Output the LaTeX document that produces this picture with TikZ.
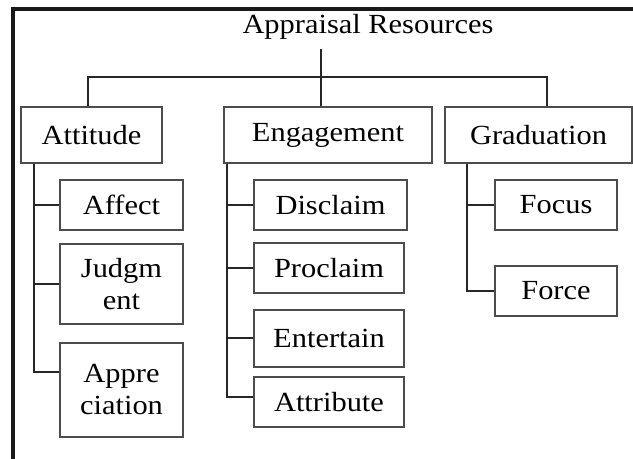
\documentclass[tikz,border=0pt]{standalone}
\usepackage{fontspec}
\setmainfont{Liberation Serif}[FakeStretch=1.1]
\usetikzlibrary{positioning}

\begin{document}
\begin{tikzpicture}[
  x=0.75pt, y=-0.75pt,
  box/.style={draw=black!70, line width=1.2pt, align=center, inner sep=2pt, font=\fontsize{20.75}{24}\selectfont},
  link/.style={draw=black!85, line width=1.5pt}
]
\useasboundingbox (0,0) rectangle (633,459);
\draw[line width=2.4pt, black!90] (13,9) rectangle (660,475);

\node[font=\fontsize{20.75}{24}\selectfont, inner xsep=0pt, inner ysep=7pt, anchor=base] (title) at (368,34) {Appraisal Resources};
\coordinate (hub) at (321,77);

\node[box, minimum width=105.75pt, minimum height=42pt] (att) at (91.5,135) {Attitude};
\node[box, minimum width=156pt, minimum height=42pt] (eng) at (328,135) {Engagement};
\node[box, minimum width=140.25pt, minimum height=42pt] (grad) at (538.5,135) {Graduation};

\node[box, minimum width=92.25pt, minimum height=37.5pt] (aff) at (121.5,205) {Affect};
\node[box, minimum width=92.25pt, minimum height=60pt] (judg) at (121.5,284) {Judgm\\ent};
\node[box, minimum width=92.25pt, minimum height=70.5pt] (appr) at (121.5,390) {Appre\\ciation};

\node[box, minimum width=114.75pt, minimum height=37.5pt] (disc) at (330.5,205) {Disclaim};
\node[box, minimum width=112.5pt, minimum height=37.5pt] (procl) at (329,268) {Proclaim};
\node[box, minimum width=112.5pt, minimum height=42.75pt] (ent) at (329,338.5) {Entertain};
\node[box, minimum width=112.5pt, minimum height=37.5pt] (attr) at (329,402) {Attribute};

\node[box, minimum width=91.5pt, minimum height=37.5pt] (foc) at (556,205) {Focus};
\node[box, minimum width=91.5pt, minimum height=37.5pt] (force) at (556,291) {Force};

% top level
\draw[link] (title.south -| hub) -- (hub |- eng.north);
\draw[link] ([xshift=-2.6pt]att.north) |- (hub) -| ([xshift=6.4pt]grad.north);

% attitude
\coordinate (attspine) at ([xshift=10.5pt]att.south west);
\draw[link] (attspine) |- ([yshift=13.5pt]appr.west);
\draw[link] (attspine |- aff.west) -- (aff.west);
\draw[link] (attspine |- judg.west) -- (judg.west);

% engagement
\coordinate (engspine) at ([xshift=3pt]eng.south west);
\draw[link] (engspine) |- ([yshift=3.75pt]attr.west);
\draw[link] (engspine |- disc.west) -- (disc.west);
\draw[link] (engspine |- procl.west) -- (procl.west);
\draw[link] (engspine |- ent.west) -- (ent.west);

% graduation
\coordinate (gradspine) at ([xshift=17.25pt]grad.south west);
\draw[link] (gradspine) |- (force.west);
\draw[link] (gradspine |- foc.west) -- (foc.west);
\end{tikzpicture}
\end{document}
